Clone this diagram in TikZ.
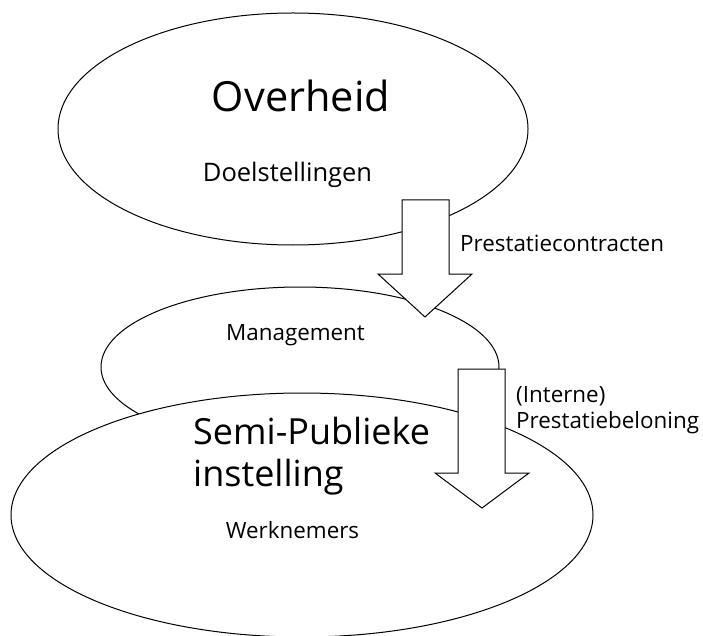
\documentclass[tikz,border=0pt]{standalone}
\usepackage{fontspec}
\setmainfont{Open Sans}
\usetikzlibrary{shapes.geometric}
\begin{document}
\begin{tikzpicture}[x=1pt,y=-1pt,
  bubble/.style={ellipse, draw, fill=white, line width=1pt, inner sep=0pt},
  blockarrow/.style={draw, fill=white, line width=1pt, line join=miter},
  lbl/.style={inner sep=0pt, font=\fontsize{22.4}{26}\selectfont},
  big/.style={inner sep=0pt, font=\fontsize{36}{40}\selectfont},
  huge/.style={inner sep=0pt, font=\fontsize{41.5}{48}\selectfont}]
\useasboundingbox (0,0) rectangle (703,636);
% ellipses
\node[bubble, minimum width=470pt, minimum height=232pt] (overheid) at (293,129) {};
\node[bubble, minimum width=398pt, minimum height=160pt] (mgmt) at (300,367) {};
\node[bubble, minimum width=582pt, minimum height=244pt] (semi) at (302,515) {};
% block arrows
\coordinate (a1) at (425,317);
\coordinate (a2) at (482,508);
\draw[blockarrow] (402,200) -- (449,200) -- (449,274) -- (472,274) -- (a1) -- (378,274) -- (402,274) -- cycle;
\draw[blockarrow] (458,369) -- (505,369) -- (505,473) -- (529,473) -- (a2) -- (435,473) -- (458,473) -- cycle;
% texts
\node[huge, anchor=base] (t1) at (301,112) {Overheid};
\node[lbl, anchor=base, font=\fontsize{25.5}{30}\selectfont] (t2) at (287.5,182) {Doelstellingen};
\node[lbl, anchor=base west] (t3) at (460,251) {Prestatiecontracten};
\node[lbl, anchor=base] (t4) at (295.5,340) {Management};
\node[big, anchor=base west] (t5) at (193,444) {Semi-Publieke};
\node[big, anchor=base west] (t6) at (193,486) {instelling};
\node[lbl, anchor=base] (t7) at (292.5,538) {Werknemers};
\node[lbl, anchor=base west] (t8) at (516,402) {(Interne)};
\node[lbl, anchor=base west] (t9) at (516,428) {Prestatiebeloning};
\end{tikzpicture}
\end{document}
